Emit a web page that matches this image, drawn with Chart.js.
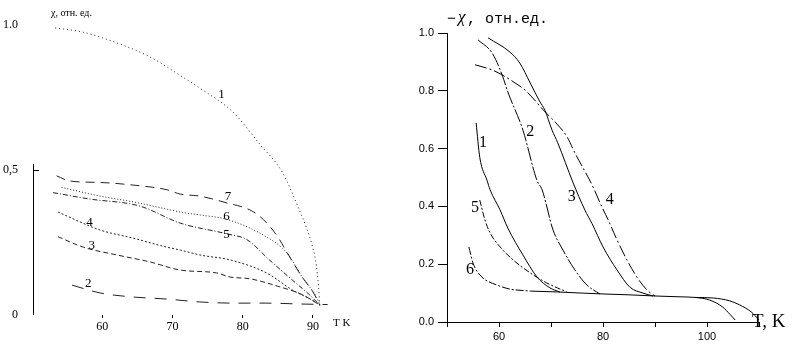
<!DOCTYPE html>
<html>
<head>
<meta charset="utf-8">
<script src="https://cdn.jsdelivr.net/npm/chart.js@4"></script>
<style>
  html, body { margin: 0; background: #fff; }
  #wrap { position: relative; width: 796px; height: 362px; }
  #left { position: absolute; left: 0; top: 0; }
  #right { position: absolute; left: 390px; top: 0; }
</style>
</head>
<body>
<div id="wrap">
  <canvas id="left" width="390" height="362"></canvas>
  <canvas id="right" width="406" height="362"></canvas>
</div>
<script>
// ---- left panel: chi (rel. units) vs T, curves 1..7 ----
const leftT1 = [53.3, 57.3, 62.1, 66.8, 71.5, 74.3, 78.6, 82.4, 85.7, 88.1, 89.1, 90.0, 90.5, 90.8, 91.0];
const leftChi1 = [0.99, 0.975, 0.938, 0.89, 0.82, 0.776, 0.70, 0.59, 0.49, 0.36, 0.3, 0.23, 0.17, 0.1, 0.03];
const leftT7 = [53.5, 55.4, 59.7, 64.4, 69.2, 71.1, 73.9, 77.2, 81.9, 84.7, 86.7, 88.5, 90.0, 91.0];
const leftChi7 = [0.48, 0.462, 0.457, 0.448, 0.432, 0.417, 0.41, 0.39, 0.35, 0.28, 0.2, 0.13, 0.08, 0.034];
const leftT6 = [54.2, 59.7, 64.4, 69.2, 71.1, 73.9, 77.7, 82.9, 86.3, 88.5, 90.5, 91.0];
const leftChi6 = [0.44, 0.41, 0.39, 0.365, 0.355, 0.345, 0.33, 0.276, 0.214, 0.13, 0.062, 0.034];
const leftT5 = [53.0, 58.2, 65.3, 71.1, 77.7, 80.6, 83.8, 87.1, 89.5, 91.0];
const leftChi5 = [0.422, 0.40, 0.376, 0.317, 0.28, 0.26, 0.19, 0.12, 0.07, 0.034];
const leftT4 = [53.7, 59.7, 64.4, 69.2, 71.1, 73.9, 78.2, 83.4, 87.1, 90.0, 91.0];
const leftChi4 = [0.355, 0.293, 0.265, 0.234, 0.224, 0.207, 0.19, 0.145, 0.086, 0.05, 0.034];
const leftT3 = [53.7, 57.3, 62.1, 66.8, 71.1, 76.3, 78.2, 81.0, 85.3, 88.5, 91.0];
const leftChi3 = [0.27, 0.234, 0.207, 0.183, 0.155, 0.145, 0.131, 0.125, 0.097, 0.07, 0.034];
const leftT2 = [55.7, 59.7, 64.4, 69.2, 73.9, 78.6, 83.3, 88.1, 92.1];
const leftChi2 = [0.103, 0.076, 0.062, 0.055, 0.045, 0.041, 0.041, 0.038, 0.036];
const leftTicksX = [60, 70, 80, 90];
const leftTicksY = [0, 0.5, 1.0];
const leftTickText = ['0', '0,5', '1.0'];
const leftCurveNames = ['1', '7', '6', '5', '4', '3', '2'];
const leftNameT = [77.0, 77.9, 77.7, 77.7, 58.2, 58.5, 58.0];
const leftNameChi = [0.759, 0.407, 0.338, 0.279, 0.317, 0.241, 0.11];

// ---- right panel: -chi (rel. units) vs T, curves 1..6 ----
const rightT1 = [55.6, 56.3, 57.7, 58.3, 60.2, 61.7, 64.6, 67.3, 69.8, 71.7];
const rightChi1 = [0.689, 0.57, 0.49, 0.457, 0.388, 0.325, 0.232, 0.156, 0.118, 0.104];
const rightT2 = [56.0, 58.7, 60.6, 61.7, 64.6, 67.3, 68.3, 70.4, 72.3, 74.6, 76.9, 79.4];
const rightChi2 = [0.976, 0.93, 0.855, 0.796, 0.664, 0.49, 0.457, 0.318, 0.249, 0.18, 0.128, 0.097];
const rightT3 = [57.9, 62.1, 64.0, 66.0, 67.9, 68.8, 70.2, 71.3, 74.2, 76.5, 77.9, 80.0, 82.7, 85.2, 87.7, 89.6];
const rightChi3 = [0.983, 0.934, 0.896, 0.827, 0.761, 0.734, 0.664, 0.62, 0.484, 0.388, 0.34, 0.26, 0.18, 0.12, 0.1, 0.09];
const rightT4 = [55.4, 58.7, 60.6, 63.1, 65.0, 66.3, 68.5, 71.3, 73.1, 74.6, 77.9, 79.8, 81.0, 82.7, 84.6, 86.5, 88.5, 90.0];
const rightChi4 = [0.89, 0.872, 0.855, 0.827, 0.803, 0.779, 0.734, 0.682, 0.64, 0.585, 0.474, 0.398, 0.353, 0.284, 0.215, 0.156, 0.11, 0.09];
const rightT5 = [56.3, 57.3, 58.3, 60.2, 62.7, 66.0, 69.2, 71.2, 73.0];
const rightChi5 = [0.422, 0.353, 0.308, 0.26, 0.215, 0.17, 0.135, 0.118, 0.105];
const rightT6 = [54.2, 55.0, 56.7, 59.6, 62.1, 66.0];
const rightChi6 = [0.26, 0.204, 0.156, 0.128, 0.114, 0.107];
const rightTailT = [66.0, 71.2, 76.0, 80.0, 85.0, 90.0, 95.0, 97.7, 100.5, 103.0, 104.5, 105.4];
const rightTailChi = [0.107, 0.104, 0.1, 0.097, 0.094, 0.09, 0.087, 0.085, 0.076, 0.052, 0.025, 0.007];
const rightTail2T = [97.7, 101.2, 104.4, 106.3, 108.5, 110.0];
const rightTail2Chi = [0.085, 0.083, 0.073, 0.059, 0.035, 0.007];
const rightTicksXLabelled = [60, 80, 100];
const rightCurveNames = ['1', '2', '3', '4', '5', '6'];
const rightNameT = [56.9, 66.0, 74.0, 81.3, 55.4, 54.4];
const rightNameChi = [0.62, 0.657, 0.433, 0.422, 0.394, 0.18];

const pts = (t, v) => t.map((x, i) => ({ x, y: v[i] }));

function line(t, v, dash, color) {
  return {
    data: pts(t, v), borderColor: color || '#000', borderWidth: 1, borderDash: dash || [],
    pointRadius: 0, fill: false, cubicInterpolationMode: 'monotone'
  };
}

// draws curve numbers, axis titles and the short left axis line
const marks = {
  id: 'marks',
  afterDatasetsDraw(chart, args, opts) {
    const { ctx, scales: { x, y } } = chart;
    ctx.save();
    ctx.fillStyle = '#000';
    ctx.textAlign = 'center';
    ctx.textBaseline = 'middle';
    ctx.font = opts.nameFont;
    opts.names.forEach((n, i) => ctx.fillText(n, x.getPixelForValue(opts.nameT[i]), y.getPixelForValue(opts.nameChi[i])));
    ctx.textAlign = 'left';
    (opts.texts || []).forEach(t => {
      ctx.font = t.font;
      ctx.fillText(t.text, t.px, t.py);
    });
    if (opts.halfAxis) {
      const ax = x.getPixelForValue(x.min) + 1;
      ctx.strokeStyle = '#000';
      ctx.lineWidth = 1;
      ctx.beginPath();
      ctx.moveTo(ax + 0.5, y.getPixelForValue(0));
      ctx.lineTo(ax + 0.5, y.getPixelForValue(0.52));
      ctx.moveTo(ax, y.getPixelForValue(0.5) + 0.5);
      ctx.lineTo(ax + 6, y.getPixelForValue(0.5) + 0.5);
      ctx.stroke();
    }
    ctx.restore();
  }
};

new Chart(document.getElementById('left'), {
  type: 'line',
  data: {
    datasets: [
      line(leftT1, leftChi1, [1, 3], '#222'),
      line(leftT7, leftChi7, [9, 6], '#222'),
      line(leftT6, leftChi6, [1, 2], '#222'),
      line(leftT5, leftChi5, [5, 2, 1, 2], '#222'),
      line(leftT4, leftChi4, [2, 2], '#222'),
      line(leftT3, leftChi3, [5, 3], '#222'),
      line(leftT2, leftChi2, [12, 9], '#222'),
    ]
  },
  options: {
    responsive: false, animation: false,
    layout: { padding: { top: 25, right: 42, left: 0, bottom: 0 } },
    plugins: {
      legend: { display: false }, tooltip: { enabled: false },
      marks: {
        names: leftCurveNames, nameT: leftNameT, nameChi: leftNameChi,
        nameFont: '13px "Liberation Serif"',
        texts: [
          { text: 'χ, отн. ед.', px: 51, py: 13, font: '10px "Liberation Serif"' },
          { text: 'T K', px: 333, py: 323, font: '11px "Liberation Serif"' }
        ],
        halfAxis: true
      }
    },
    scales: {
      x: {
        type: 'linear', min: 50, max: 95,
        afterFit: s => { s.height = 47; },
        afterBuildTicks: s => { s.ticks = leftTicksX.map(v => ({ value: v })); },
        border: { display: false },
        grid: { drawOnChartArea: false, tickLength: 3, color: '#000' },
        ticks: { color: '#000', padding: 2, font: { family: 'Liberation Serif', size: 12 } }
      },
      y: {
        type: 'linear', min: 0, max: 1.0,
        afterFit: s => { s.width = 32; },
        afterBuildTicks: s => { s.ticks = leftTicksY.map(v => ({ value: v })); },
        border: { display: false },
        grid: { display: false },
        ticks: {
          color: '#000', padding: 6, font: { family: 'Liberation Serif', size: 12 },
          callback: (v, i) => leftTickText[i]
        }
      }
    }
  },
  plugins: [marks]
});

new Chart(document.getElementById('right'), {
  type: 'line',
  data: {
    datasets: [
      line(rightT1, rightChi1),
      line(rightT2, rightChi2, [14, 2, 2, 2]),
      line(rightT3, rightChi3),
      line(rightT4, rightChi4, [12, 3, 2, 3]),
      line(rightT5, rightChi5, [6, 2, 2, 2]),
      line(rightT6, rightChi6, [8, 2, 2, 2]),
      line(rightTailT, rightTailChi),
      line(rightTail2T, rightTail2Chi),
    ]
  },
  options: {
    responsive: false, animation: false,
    layout: { padding: { top: 33, right: 37, left: 0, bottom: 0 } },
    plugins: {
      legend: { display: false }, tooltip: { enabled: false },
      marks: {
        names: rightCurveNames, nameT: rightNameT, nameChi: rightNameChi,
        nameFont: '16px "Liberation Serif"',
        texts: [
          { text: '−', px: 57, py: 19, font: '15px "Liberation Mono"' },
          { text: 'χ', px: 68, py: 18, font: 'italic 17px "Liberation Serif"' },
          { text: ', отн.ед.', px: 77, py: 19, font: '15px "Liberation Mono"' },
          { text: 'T, K', px: 362, py: 322, font: '19px "Liberation Serif"' }
        ]
      }
    },
    scales: {
      x: {
        type: 'linear', min: 50, max: 110,
        afterFit: s => { s.height = 40; },
        border: { display: true, color: '#000' },
        grid: { drawOnChartArea: false, tickLength: 5, color: '#000' },
        ticks: {
          stepSize: 10, color: '#000', padding: 3, font: { family: 'Liberation Sans', size: 11 },
          callback: v => rightTicksXLabelled.includes(v) ? String(v) : ''
        }
      },
      y: {
        type: 'linear', min: 0, max: 1.0,
        afterFit: s => { s.width = 57; },
        border: { display: true, color: '#000' },
        grid: { drawOnChartArea: false, tickLength: 9, color: '#000' },
        ticks: {
          stepSize: 0.2, color: '#000', padding: 4, font: { family: 'Liberation Sans', size: 11 },
          callback: v => v.toFixed(1)
        }
      }
    }
  },
  plugins: [marks]
});
</script>
</body>
</html>
